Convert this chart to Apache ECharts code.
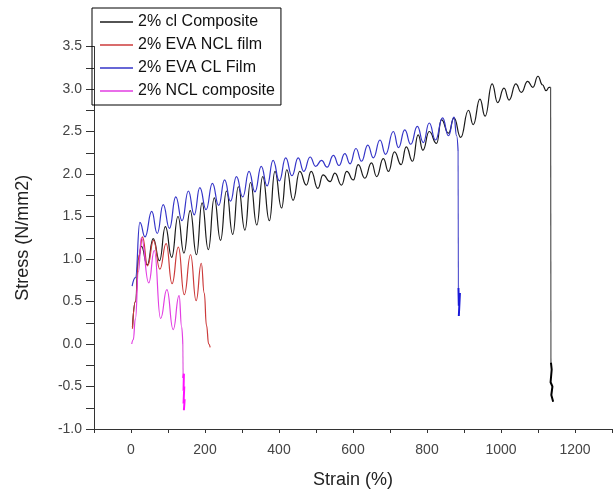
<!DOCTYPE html>
<html>
<head>
<meta charset="utf-8">
<script src="https://cdn.jsdelivr.net/npm/echarts@6/dist/echarts.min.js"></script>
<style>
  html, body { margin: 0; padding: 0; background: #fff; }
  #chart { width: 615px; height: 495px; }
</style>
</head>
<body>
<div id="chart"></div>
<script>
  // series names, as in the legend
  var seriesNames = ['2% cl Composite', '2% EVA NCL film', '2% EVA CL Film', '2% NCL composite'];

  // [strain %, stress N/mm2] (peaks and troughs)
  var clComposite = [
    [4, 0.20], [12, 0.5], [20, 1.0], [28, 1.15], [44, 0.93], [60, 1.24], [77, 0.98], [93, 1.38],
    [110, 1.02], [127, 1.50], [143, 1.07], [160, 1.57], [177, 1.05], [192, 1.66], [209, 1.11],
    [225, 1.72], [242, 1.22], [258, 1.80], [275, 1.29], [290, 1.85], [308, 1.34], [323, 1.90],
    [340, 1.40], [356, 1.97], [374, 1.45], [389, 2.03], [407, 1.60], [421, 2.05], [438, 1.69],
    [456, 2.03], [474, 1.87], [487, 2.03], [505, 1.83], [519, 1.99], [538, 1.91], [551, 2.01],
    [569, 1.87], [583, 2.03], [601, 1.93], [614, 2.11], [632, 1.95], [650, 2.13], [664, 1.97],
    [682, 2.18], [696, 2.03], [712, 2.26], [730, 2.11], [744, 2.32], [761, 2.15], [776, 2.46],
    [789, 2.28], [806, 2.50], [826, 2.36], [839, 2.64], [858, 2.48], [873, 2.66], [891, 2.43],
    [912, 2.75], [925, 2.58], [943, 2.88], [957, 2.68], [976, 3.06], [991, 2.84], [1008, 3.01],
    [1022, 2.87], [1040, 3.06], [1055, 2.96], [1072, 3.09], [1086, 3.02], [1100, 3.15],
    [1112, 3.05], [1122, 2.98], [1130, 3.02], [1134, 3.02]
  ];
  var clCompositeDrop = [[1134, 3.02], [1135, -0.22]];
  var clCompositeTail = [
    [1135, -0.22], [1137, -0.30], [1134, -0.45], [1139, -0.50], [1136, -0.60], [1141, -0.68]
  ];

  var evaNclFilm = [
    [4, 0.18], [12, 0.5], [22, 1.05], [31, 1.26], [45, 0.92], [61, 1.22], [78, 0.88], [95, 1.18],
    [111, 0.71], [128, 1.14], [144, 0.58], [161, 1.05], [176, 0.51], [190, 0.95], [198, 0.60],
    [204, 0.22], [210, 0.0], [214, -0.04]
  ];

  var evaClFilm = [
    [3, 0.68], [12, 0.78], [24, 1.43], [38, 1.26], [56, 1.56], [71, 1.30], [87, 1.64], [104, 1.36],
    [121, 1.73], [138, 1.45], [155, 1.80], [171, 1.52], [186, 1.84], [203, 1.58], [220, 1.89],
    [237, 1.63], [253, 1.93], [269, 1.68], [285, 1.97], [302, 1.73], [319, 2.03], [335, 1.79],
    [352, 2.09], [368, 1.86], [384, 2.16], [401, 1.92], [418, 2.19], [435, 1.98], [452, 2.19],
    [467, 2.03], [484, 2.20], [499, 2.09], [515, 2.16], [530, 2.08], [547, 2.22], [562, 2.10],
    [578, 2.24], [592, 2.12], [608, 2.30], [623, 2.15], [640, 2.34], [655, 2.19], [673, 2.40],
    [688, 2.23], [709, 2.50], [723, 2.31], [740, 2.52], [756, 2.35], [774, 2.56], [790, 2.37],
    [806, 2.60], [823, 2.40], [842, 2.66], [858, 2.45], [873, 2.67], [880, 2.45], [884, 2.27]
  ];
  var evaClFilmDrop = [[884, 2.27], [885, 0.66]];
  var evaClFilmTail = [
    [885, 0.66], [888, 0.64], [886, 0.45], [889, 0.60], [886, 0.33]
  ];

  var nclComposite = [
    [2, 0.0], [6, 0.05], [12, 0.3], [20, 0.85], [28, 1.25], [48, 0.72], [63, 1.10], [80, 0.30],
    [97, 0.64], [114, 0.17], [130, 0.57], [137, 0.2], [140, 0.0]
  ];
  var nclCompositeDrop = [[140, 0.0], [141, -0.40]];
  var nclCompositeTail = [
    [141, -0.40], [143, -0.35], [142, -0.55], [144, -0.50], [142, -0.70], [145, -0.65], [143, -0.78]
  ];

  var colors = ['#1a1a1a', '#cc3b3b', '#3535c8', '#e23ee2'];
  var dropColors = ['#555555', '#cc3b3b', '#5a5ad0', '#e060e0'];
  var tailColors = ['#000000', '#cc3b3b', '#1a1ad8', '#ff10ff'];

  var chart = echarts.init(document.getElementById('chart'));

  function curve(name, data, color, smooth, width) {
    return {
      name: name,
      type: 'line',
      data: data,
      smooth: smooth ? 0.5 : false,
      smoothMonotone: smooth ? 'x' : null,
      symbol: 'none',
      color: color,
      lineStyle: { color: color, width: width },
      animation: false
    };
  }

  var option = {
    backgroundColor: '#fff',
    textStyle: { fontFamily: 'Liberation Sans, Arial, sans-serif' },
    grid: { left: 94, right: 1.5, top: 46.5, bottom: 66 },
    legend: {
      data: seriesNames,
      orient: 'vertical',
      left: 92,
      top: 8,
      padding: [6, 6, 6, 8],
      itemGap: 7,
      itemWidth: 33,
      itemHeight: 1.5,
      icon: 'rect',
      borderColor: '#000',
      borderWidth: 1,
      textStyle: { fontSize: 16, color: '#111', fontFamily: 'Liberation Sans, Arial, sans-serif' }
    },
    xAxis: {
      type: 'value',
      min: -100,
      max: 1300,
      interval: 100,
      name: 'Strain (%)',
      nameLocation: 'middle',
      nameGap: 42,
      nameTextStyle: { fontSize: 18, color: '#222' },
      axisLine: { onZero: false, lineStyle: { color: '#333', width: 1 } },
      axisTick: { show: true, inside: false, length: 4, lineStyle: { color: '#333' } },
      axisLabel: {
        fontSize: 14, color: '#444', margin: 14,
        formatter: function (v) { return (v >= 0 && v <= 1200 && v % 200 === 0) ? String(v) : ''; }
      },
      splitLine: { show: false }
    },
    yAxis: {
      type: 'value',
      min: -1,
      max: 3.5,
      interval: 0.5,
      name: 'Stress (N/mm2)',
      nameLocation: 'middle',
      nameGap: 62,
      nameRotate: 90,
      nameTextStyle: { fontSize: 18, color: '#222' },
      axisLine: { show: true, onZero: false, lineStyle: { color: '#333', width: 1 } },
      axisTick: { show: true, inside: false, length: 8, lineStyle: { color: '#333' } },
      minorTick: { show: true, splitNumber: 2, length: 8, lineStyle: { color: '#333' } },
      axisLabel: {
        fontSize: 14, color: '#444', margin: 12,
        formatter: function (v) { return v.toFixed(1); }
      },
      splitLine: { show: false }
    },
    series: [
      curve(seriesNames[0], clComposite, colors[0], true, 1.2),
      curve(seriesNames[0], clCompositeDrop, dropColors[0], false, 1.2),
      curve(seriesNames[0], clCompositeTail, tailColors[0], false, 2),
      curve(seriesNames[1], evaNclFilm, colors[1], true, 1.2),
      curve(seriesNames[2], evaClFilm, colors[2], true, 1.2),
      curve(seriesNames[2], evaClFilmDrop, dropColors[2], false, 1.2),
      curve(seriesNames[2], evaClFilmTail, tailColors[2], false, 2),
      curve(seriesNames[3], nclComposite, colors[3], true, 1.2),
      curve(seriesNames[3], nclCompositeDrop, dropColors[3], false, 1.2),
      curve(seriesNames[3], nclCompositeTail, tailColors[3], false, 2)
    ]
  };

  option && chart.setOption(option);
</script>
</body>
</html>
